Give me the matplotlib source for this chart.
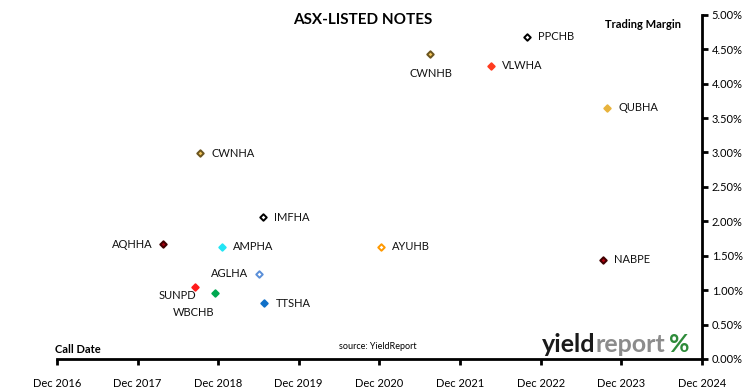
import matplotlib
matplotlib.use("Agg")
import matplotlib.pyplot as plt
import matplotlib.dates as mdates
import matplotlib.ticker as mticker
import pandas as pd

plt.rcParams['font.family'] = ['Lato', 'DejaVu Sans']

# call date / trading margin (%) for each note
codes = ["PPCHB", "CWNHB", "VLWHA", "QUBHA", "CWNHA", "IMFHA", "AQHHA",
         "AMPHA", "AYUHB", "NABPE", "AGLHA", "SUNPD", "WBCHB", "TTSHA"]
call_dates = ["2022-09-28", "2021-07-20", "2022-04-18", "2023-09-28", "2018-09-11",
              "2019-06-20", "2018-03-28", "2018-12-18", "2020-12-06", "2023-09-11",
              "2019-06-06", "2018-08-16", "2018-11-16", "2019-06-28"]
margins = [4.68, 4.43, 4.26, 3.65, 2.99, 2.06, 1.67, 1.63, 1.63, 1.44, 1.24, 1.05, 0.96, 0.81]

face = ["white", "#F2C45A", "#FF3B1F", "#E8B33C", "#F2C45A", "white", "#A00010",
        "#22E5F5", "white", "#B00010", "white", "#FF1A1A", "#00A850", "#1070C8"]
edge = ["black", "#6B5520", "#FF3B1F", "#E8B33C", "#6B5520", "black", "#400000",
        "#22E5F5", "#FF9900", "#400000", "#5B8FD8", "#FF1A1A", "#00A850", "#1070C8"]
# label placement: (dx points, dy points, ha)
lab = {"PPCHB": (8, 0, "left"), "CWNHB": (0, -14, "center"), "VLWHA": (8, 0, "left"),
       "QUBHA": (8, 0, "left"), "CWNHA": (8, 0, "left"), "IMFHA": (8, 0, "left"),
       "AQHHA": (-8, 0, "right"), "AMPHA": (8, 0, "left"), "AYUHB": (8, 0, "left"),
       "NABPE": (8, 0, "left"), "AGLHA": (-8, 0, "right"), "SUNPD": (1, -6, "right"),
       "WBCHB": (-15, -14, "center"), "TTSHA": (8, 0, "left")}

dates = pd.to_datetime(call_dates)

fig = plt.figure(figsize=(7.5, 3.91), dpi=100)
ax = fig.add_axes([0.076, 0.082, 0.860, 0.880])

for c, d, m, fc, ec in zip(codes, dates, margins, face, edge):
    ax.scatter([d], [m], marker="D", s=11, facecolor=fc, edgecolor=ec, linewidths=1.4, zorder=3)
    dx, dy, ha = lab[c]
    ax.annotate(c, (d, m), xytext=(dx, dy), textcoords="offset points", ha=ha, va="center",
                fontsize=8, color="#111111")

ax.set_xlim(pd.Timestamp("2016-12-01"), pd.Timestamp("2024-12-01"))
ax.set_ylim(0, 5)
ax.xaxis.set_major_locator(mdates.MonthLocator(bymonth=12, bymonthday=1))
ax.xaxis.set_major_formatter(mdates.DateFormatter("Dec %Y"))
ax.yaxis.set_major_locator(mticker.MultipleLocator(0.5))
ax.yaxis.set_major_formatter(mticker.FuncFormatter(lambda v, p: f"{v:.2f}%"))
ax.yaxis.tick_right()
for s in ["left", "top"]:
    ax.spines[s].set_visible(False)
for s in ["right", "bottom"]:
    ax.spines[s].set_linewidth(2)
ax.tick_params(axis="both", width=2, length=4, labelsize=8, pad=10)
ax.tick_params(axis="y", pad=3)

fig.text(0.483, 0.948, "ASX-LISTED NOTES", ha="center", va="center", fontsize=11, fontweight="bold")
fig.text(0.857, 0.938, "Trading Margin", ha="center", va="center", fontsize=8, fontweight="bold")
fig.text(0.104, 0.107, "Call Date", ha="center", va="center", fontsize=8, fontweight="bold")
fig.text(0.504, 0.115, "source: YieldReport", ha="center", va="center", fontsize=6.5)

# logo: place pieces side by side using measured widths
fig.canvas.draw()
r = fig.canvas.get_renderer()
x0, yl = 542 / 750, 0.12
for part, col in [("yield", "#1a1a1a"), ("report", "#8c8c8c"), ("%", "#2e8b3a")]:
    t = fig.text(x0, yl, part, ha="left", va="center", fontsize=18, fontweight="bold", color=col)
    w = t.get_window_extent(renderer=r).width
    x0 += (w + (4 if part == "report" else 0)) / 750

fig.savefig("out.png", dpi=100)
